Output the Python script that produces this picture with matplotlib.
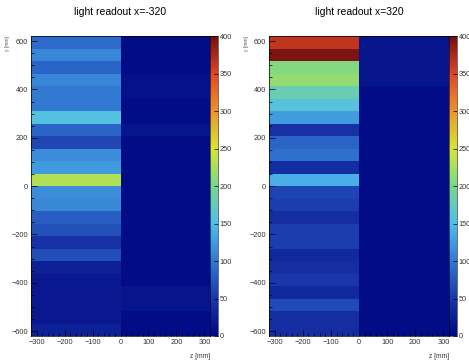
import numpy as np
import matplotlib
matplotlib.use("Agg")
import matplotlib.pyplot as plt
from matplotlib.colors import LinearSegmentedColormap, Normalize
from matplotlib.ticker import MultipleLocator

plt.rcParams['font.family'] = ['Liberation Sans', 'DejaVu Sans']

# ---- data (rows listed top -> bottom, y from +620 down to -620) ----
titles = ["light readout x=-320", "light readout x=320"]
z_edges = [-320, 0, 320]
n_rows = 24
y_lo, y_hi = -620, 620

left_zneg = [90, 110, 85, 110, 100, 100, 155, 85, 62, 115, 125, 230,
             115, 112, 80, 70, 45, 68, 25, 18, 18, 18, 18, 28]
left_zpos = [5, 5, 5, 10, 10, 5, 5, 15, 5, 5, 5, 5,
             5, 5, 5, 5, 5, 5, 5, 5, 15, 15, 5, 5]
right_zneg = [365, 395, 205, 215, 180, 160, 125, 45, 85, 95, 40, 140,
              60, 55, 40, 55, 55, 35, 40, 50, 35, 65, 40, 40]
right_zpos = [15, 15, 15, 15, 5, 5, 5, 5, 5, 5, 5, 5,
              5, 5, 5, 5, 5, 5, 5, 5, 5, 5, 5, 5]

cbar_ticks = [0, 50, 100, 150, 200, 250, 300, 350, 400]
vmin, vmax = 0, 400

# rainbow palette sampled from the reference colour bar
stops = [0.0, 0.125, 0.25, 0.375, 0.5, 0.625, 0.75, 0.875, 1.0]
red = [0, 25, 50, 80, 120, 215, 235, 225, 115]
green = [8, 55, 120, 190, 215, 230, 150, 70, 15]
blue = [130, 170, 210, 235, 140, 50, 40, 35, 15]
cmap = LinearSegmentedColormap.from_list(
    "rainbow_ref",
    [(s, (r / 255, g / 255, b / 255)) for s, r, g, b in zip(stops, red, green, blue)])

W, H = 469, 360
fig = plt.figure(figsize=(W / 100, H / 100), dpi=100)

def fx(px):
    return px / W

def fy(py):
    return 1 - py / H

ax_top, ax_bot = 36.3, 336.0
panels = [
    dict(ax_x0=31, ax_x1=210, cb_x1=218, title=titles[0],
         vals=(left_zneg, left_zpos)),
    dict(ax_x0=269, ax_x1=449, cb_x1=457, title=titles[1],
         vals=(right_zneg, right_zpos)),
]

y_edges = np.linspace(y_lo, y_hi, n_rows + 1)
norm = Normalize(vmin=vmin, vmax=vmax)
fs = 5.3

for p in panels:
    ax = fig.add_axes([fx(p['ax_x0']), fy(ax_bot), fx(p['ax_x1'] - p['ax_x0']),
                       (ax_bot - ax_top) / H])
    zneg, zpos = p['vals']
    C = np.array([zneg[::-1], zpos[::-1]]).T  # rows bottom->top
    mesh = ax.pcolormesh(z_edges, y_edges, C, cmap=cmap, norm=norm,
                         shading='flat', edgecolors='none', antialiased=False)
    ax.set_xlim(z_edges[0], z_edges[-1])
    ax.set_ylim(y_lo, y_hi)
    ax.xaxis.set_major_locator(MultipleLocator(100))
    ax.xaxis.set_minor_locator(MultipleLocator(20))
    ax.yaxis.set_major_locator(MultipleLocator(200))
    ax.yaxis.set_minor_locator(MultipleLocator(50))
    ax.tick_params(which='both', direction='in', top=False, right=False,
                   labelsize=fs, colors='black', pad=2, width=0.5)
    ax.tick_params(which='major', length=4)
    ax.tick_params(which='minor', length=2)
    for sp in ax.spines.values():
        sp.set_linewidth(0.5)
    for lab in ax.get_xticklabels() + ax.get_yticklabels():
        lab.set_color('#333333')
    ax.set_axisbelow(False)

    fig.text(fx((p['ax_x0'] + p['ax_x1']) / 2), fy(12), p['title'],
             ha='center', va='center', fontsize=7.5)
    fig.text(fx(p['ax_x1']), fy(356), "z [mm]", ha='right', va='center',
             fontsize=fs - 0.5, color='#333333')
    fig.text(fx(p['ax_x0'] - 23), fy(36), "y [mm]", ha='center', va='top',
             rotation=90, fontsize=3.5, color='#555555')

    cax = fig.add_axes([fx(p['ax_x1']), fy(ax_bot), fx(p['cb_x1'] - p['ax_x1']),
                        (ax_bot - ax_top) / H])
    cb = fig.colorbar(mesh, cax=cax, ticks=cbar_ticks)
    cb.outline.set_linewidth(0.4)
    cax.tick_params(direction='in', length=3, width=0.5, labelsize=fs, pad=1,
                    right=True, left=False)
    for lab in cax.get_yticklabels():
        lab.set_color('#333333')

fig.savefig("out.png", dpi=100)
